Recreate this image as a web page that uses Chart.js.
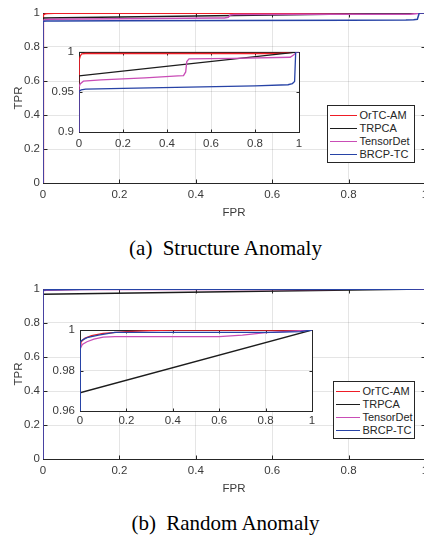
<!DOCTYPE html>
<html>
<head>
<meta charset="utf-8">
<script src="https://cdn.jsdelivr.net/npm/chart.js@4.4.1/dist/chart.umd.min.js"></script>
<style>
  html, body { margin: 0; padding: 0; background: #fff; }
  body { position: relative; width: 424px; height: 536px; overflow: hidden; }
  canvas { position: absolute; }
  .legend { position: absolute; background: #fff; border: 1px solid #262626; box-sizing: border-box;
            font: 11px "Liberation Sans", Arial, sans-serif; color: #262626; }
  .legend div { position: absolute; height: 13px; line-height: 13px; white-space: nowrap; }
  .legend i { position: absolute; top: 6px; height: 0; border-top: 1px solid; }
  .caption { position: absolute; left: 0; width: 451px; text-align: center; white-space: nowrap;
             font: 21px "Liberation Serif", "Times New Roman", serif; color: #000; }
  .caption span { margin-right: 5px; }
</style>
</head>
<body>
<canvas id="mainA" width="470" height="220" style="left:0;top:0"></canvas>
<canvas id="insetA" width="270" height="115" style="left:40px;top:40px"></canvas>
<canvas id="mainB" width="470" height="220" style="left:0;top:276px"></canvas>
<canvas id="insetB" width="285" height="115" style="left:40px;top:318px"></canvas>
<div class="legend" id="legA" style="left:327px;top:105px;width:88px;height:58px"></div>
<div class="legend" id="legB" style="left:333px;top:381px;width:82px;height:58px"></div>
<div class="caption" style="top:236px"><span>(a)</span> Structure Anomaly</div>
<div class="caption" style="top:511px"><span>(b)</span> Random Anomaly</div>
<script>
const seriesNames = ['OrTC-AM', 'TRPCA', 'TensorDet', 'BRCP-TC'];
const seriesColors = ['#ee1d26', '#1c1c1c', '#c94db6', '#2743a6'];

// (a) Structure Anomaly
const aOrtcFpr = [0, 0, 0.002, 0.006, 0.012, 0.03, 0.9, 1];
const aOrtcTpr = [0, 0.975, 0.99, 0.995, 0.9975, 0.998, 0.998, 1];
const aTrpcaFpr = [0, 0, 1];
const aTrpcaTpr = [0, 0.970, 1];
const aTensorFpr = [0, 0, 0.005, 0.02, 0.1, 0.3, 0.45, 0.475, 0.485, 0.49, 0.5, 0.7, 0.96, 0.975, 0.99, 1];
const aTensorTpr = [0, 0.956, 0.960, 0.9634, 0.965, 0.9676, 0.970, 0.9705, 0.975, 0.988, 0.9913, 0.992, 0.9933, 0.996, 1, 1];
const aBrcpFpr = [0, 0, 0.01, 0.03, 0.2, 0.5, 0.8, 0.95, 0.97, 0.98, 0.985, 1];
const aBrcpTpr = [0, 0.951, 0.9525, 0.9535, 0.9545, 0.956, 0.9575, 0.959, 0.9605, 0.963, 1, 1];

// (b) Random Anomaly
const bOrtcFpr = [0, 0, 0.005, 0.02, 0.05, 0.1, 0.2, 0.3, 0.4, 1];
const bOrtcTpr = [0, 0.99, 0.9942, 0.9959, 0.9972, 0.9983, 0.9992, 0.9997, 1, 1];
const bTrpcaFpr = [0, 0, 1];
const bTrpcaTpr = [0, 0.969, 1];
const bTensorFpr = [0, 0, 0.01, 0.03, 0.06, 0.1, 0.15, 0.6, 0.7, 0.8, 1];
const bTensorTpr = [0, 0.9905, 0.9929, 0.9942, 0.9955, 0.9965, 0.9967, 0.9967, 0.9975, 0.9987, 1];
const bBrcpFpr = [0, 0, 0.003, 0.01, 0.03, 0.08, 0.15, 0.83, 0.95, 1];
const bBrcpTpr = [0, 0.992, 0.9942, 0.995, 0.9962, 0.9975, 0.9988, 0.9988, 0.9992, 1];

const mainTicks = [0, 0.2, 0.4, 0.6, 0.8, 1];

const zip = (xs, ys) => xs.map((x, i) => ({ x: x, y: ys[i] }));

const curvesA = [zip(aOrtcFpr, aOrtcTpr), zip(aTrpcaFpr, aTrpcaTpr), zip(aTensorFpr, aTensorTpr), zip(aBrcpFpr, aBrcpTpr)];
const curvesB = [zip(bOrtcFpr, bOrtcTpr), zip(bTrpcaFpr, bTrpcaTpr), zip(bTensorFpr, bTensorTpr), zip(bBrcpFpr, bBrcpTpr)];

const font = { family: '"Liberation Sans", Arial, sans-serif', size: 11.5 };
const txtColor = '#3a3a3a';
const fmt = v => String(+(+v).toFixed(3));

// matlab-ish box with inward ticks, white plot background for insets
const axesBox = {
  id: 'axesBox',
  beforeDraw(chart, args, o) {
    if (!o.fill) return;
    const a = chart.chartArea, ctx = chart.ctx;
    ctx.save();
    ctx.fillStyle = '#fff';
    ctx.fillRect(a.left, a.top, a.right - a.left, a.bottom - a.top);
    ctx.restore();
  },
  beforeDatasetsDraw(chart, args, o) {
    const { ctx, chartArea: a, scales } = chart;
    const L = Math.round(a.left) + 0.5, R = Math.round(a.right) + 0.5;
    const T = Math.round(a.top) + 0.5, B = Math.round(a.bottom) + 0.5;
    ctx.save();
    ctx.strokeStyle = '#262626';
    ctx.lineWidth = 1;
    ctx.strokeRect(L, T, R - L, B - T);
    ctx.beginPath();
    scales.x.ticks.forEach(t => {
      const p = Math.round(scales.x.getPixelForValue(t.value)) + 0.5;
      ctx.moveTo(p, B); ctx.lineTo(p, B - o.len);
      ctx.moveTo(p, T); ctx.lineTo(p, T + o.len);
    });
    scales.y.ticks.forEach(t => {
      const p = Math.round(scales.y.getPixelForValue(t.value)) + 0.5;
      ctx.moveTo(L, p); ctx.lineTo(L + o.len, p);
      ctx.moveTo(R, p); ctx.lineTo(R - o.len, p);
    });
    ctx.stroke();
    ctx.restore();
  }
};

function makeChart(id, curves, g) {
  const datasets = curves.map((pts, i) => ({
    label: seriesNames[i],
    data: pts,
    borderColor: seriesColors[i],
    borderWidth: g.lw,
    pointRadius: 0,
    tension: 0,
    fill: false,
    order: 3 - i
  }));
  return new Chart(document.getElementById(id), {
    type: 'line',
    data: { datasets: datasets },
    plugins: [axesBox],
    options: {
      responsive: false,
      animation: false,
      events: [],
      layout: { padding: { left: 0, top: g.top, right: g.right, bottom: 0 } },
      plugins: {
        legend: { display: false },
        tooltip: { enabled: false },
        axesBox: { fill: g.fill, len: g.tickLen }
      },
      scales: {
        x: {
          type: 'linear', min: 0, max: 1,
          afterFit: s => { s.height = g.xh; },
          afterBuildTicks: s => { s.ticks = mainTicks.map(v => ({ value: v })); },
          grid: { color: 'rgba(0,0,0,0.1)', drawTicks: false },
          border: { display: false },
          ticks: { font: font, color: txtColor, padding: g.xpad, maxRotation: 0, callback: fmt },
          title: g.xTitle ? { display: true, text: 'FPR', font: font, color: txtColor, padding: { top: 0, bottom: 0 } } : { display: false }
        },
        y: {
          type: 'linear', min: g.ymin, max: 1,
          afterFit: s => { s.width = g.yw; },
          afterBuildTicks: s => { s.ticks = g.yTicks.map(v => ({ value: v })); },
          grid: { color: 'rgba(0,0,0,0.1)', drawTicks: false },
          border: { display: false },
          ticks: { font: font, color: txtColor, padding: g.ypad, callback: fmt },
          title: g.yTitle ? { display: true, text: 'TPR', font: font, color: txtColor, padding: { top: 11.5, bottom: 0 } } : { display: false }
        }
      }
    }
  });
}

const mainGeom = { top: 13, right: 45, xh: 37, yw: 43, xpad: 5, ypad: 3, lw: 1.5, fill: false, tickLen: 4,
  ymin: 0, yTicks: mainTicks, xTitle: true, yTitle: true };

makeChart('mainA', curvesA, mainGeom);
makeChart('mainB', curvesB, mainGeom);
makeChart('insetA', curvesA, { top: 11, right: 11, xh: 23, yw: 39, xpad: 5, ypad: 5, lw: 1.3, fill: true, tickLen: 3,
  ymin: 0.9, yTicks: [0.9, 0.95, 1] });
makeChart('insetB', curvesB, { top: 12, right: 13, xh: 22, yw: 40, xpad: 3, ypad: 5, lw: 1.3, fill: true, tickLen: 3,
  ymin: 0.96, yTicks: [0.96, 0.98, 1] });

function buildLegend(id, lineLeft, lineLen) {
  const box = document.getElementById(id);
  seriesNames.forEach((name, i) => {
    const row = document.createElement('div');
    row.style.top = (2.5 + i * 13) + 'px';
    row.style.left = '0px';
    const sw = document.createElement('i');
    sw.style.left = lineLeft + 'px';
    sw.style.width = lineLen + 'px';
    sw.style.borderTopColor = seriesColors[i];
    row.appendChild(sw);
    const tx = document.createElement('span');
    tx.textContent = name;
    tx.style.position = 'absolute';
    tx.style.left = (lineLeft + lineLen + 2.5) + 'px';
    row.appendChild(tx);
    box.appendChild(row);
  });
}
buildLegend('legA', 2, 27);
buildLegend('legB', 2, 24);
</script>
</body>
</html>
